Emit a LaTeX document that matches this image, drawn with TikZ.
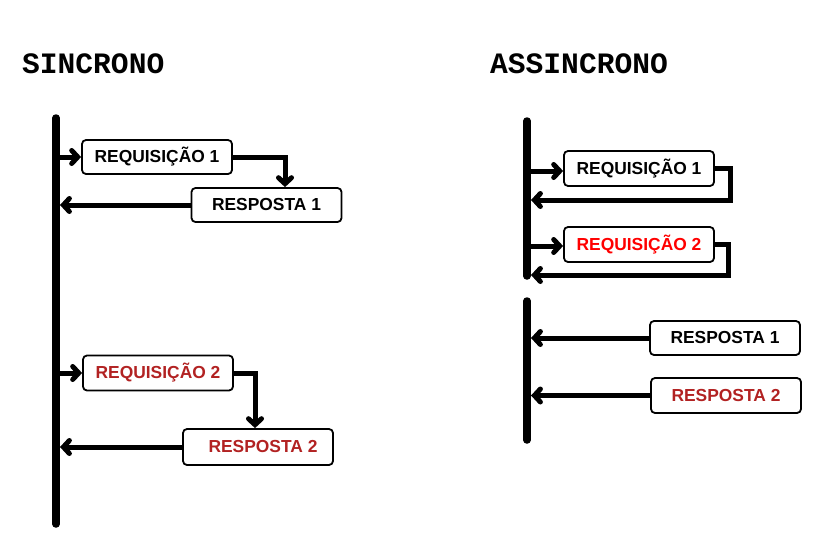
\documentclass[tikz,border=0pt]{standalone}
\usepackage{fontspec}
\setmainfont{Liberation Sans}
\newfontfamily\titlefont{Liberation Mono}
\usetikzlibrary{arrows.meta}
\definecolor{dred}{RGB}{178,34,34}
\definecolor{bred}{RGB}{255,0,0}
\begin{document}
\begin{tikzpicture}[x=1pt,y=-1pt,
  box/.style={draw, line width=1.8pt, rounded corners=4pt, minimum width=150pt,
    minimum height=34pt, inner sep=0pt, font=\fontsize{17.4}{17.4}\selectfont\bfseries},
  life/.style={line width=7.5pt, line cap=round},
  conn/.style={line width=5pt, -{Straight Barb[length=6pt,width=13pt,line cap=round]}},
  title/.style={anchor=west, inner sep=0pt, font=\titlefont\fontsize{29.6}{29.6}\selectfont\bfseries}
]
\useasboundingbox (0,0) rectangle (828,557);

% titles
\node[title] (t1) at (22,64) {SINCRONO};
\node[title] (t2) at (490,64) {ASSINCRONO};

% ---------- left (sincrono)
\coordinate (L1top) at (56,118);
\coordinate (L1bot) at (56,524);
\draw[life] (L1top) -- (L1bot);

\node[box] (req1) at (157,157) {REQUISIÇÃO 1};
\node[box] (resp1) at (266.5,205) {RESPOSTA 1};
\node[box, text=dred, minimum height=35pt] (req2) at (158,373) {REQUISIÇÃO 2};
\node[box, text=dred, minimum height=36pt] (resp2) at (258,447) {\hspace*{10pt}RESPOSTA 2};

\coordinate (a1) at (56,157);
\coordinate (k1) at (285,157);
\coordinate (b1) at (60,205);
\draw[conn] (a1) -- (req1.west);
\draw[conn] (req1.east) -- (k1) -- (k1 |- resp1.north);
\draw[conn] (resp1.west) -- (b1);

\coordinate (a2) at (56,373);
\coordinate (k2) at (255,373);
\coordinate (b2) at (60,447);
\draw[conn] (a2) -- (req2.west);
\draw[conn] (req2.east) -- (k2) -- (k2 |- resp2.north);
\draw[conn] (resp2.west) -- (b2);

% ---------- right (assincrono)
\coordinate (R1top) at (527,121);
\coordinate (R1bot) at (527,276);
\draw[life] (R1top) -- (R1bot);
\coordinate (R2top) at (527,301);
\coordinate (R2bot) at (527,440);
\draw[life] (R2top) -- (R2bot);

\node[box, minimum height=35pt] (rq1) at (639,168.5) {REQUISIÇÃO 1};
\node[box, minimum height=35pt, text=bred] (rq2) at (639,244.5) {REQUISIÇÃO 2};
\node[box] (rs1) at (725,338) {RESPOSTA 1};
\node[box, minimum height=35pt, text=dred] (rs2) at (726,395.5) {RESPOSTA 2};

\coordinate (c1) at (527,171);
\coordinate (d1) at (730,168.5);
\coordinate (e1) at (730,200);
\coordinate (f1) at (531,200);
\draw[conn] (c1) -- (c1 -| rq1.west);
\draw[conn] (rq1.east) -- (d1) -- (e1) -- (f1);

\coordinate (c2) at (527,246);
\coordinate (d2) at (728,244.5);
\coordinate (e2) at (728,275);
\coordinate (f2) at (531,275);
\draw[conn] (c2) -- (c2 -| rq2.west);
\draw[conn] (rq2.east) -- (d2) -- (e2) -- (f2);

\coordinate (g1) at (531,338);
\coordinate (g2) at (531,395.5);
\draw[conn] (rs1.west) -- (g1);
\draw[conn] (rs2.west) -- (g2);
\end{tikzpicture}
\end{document}
